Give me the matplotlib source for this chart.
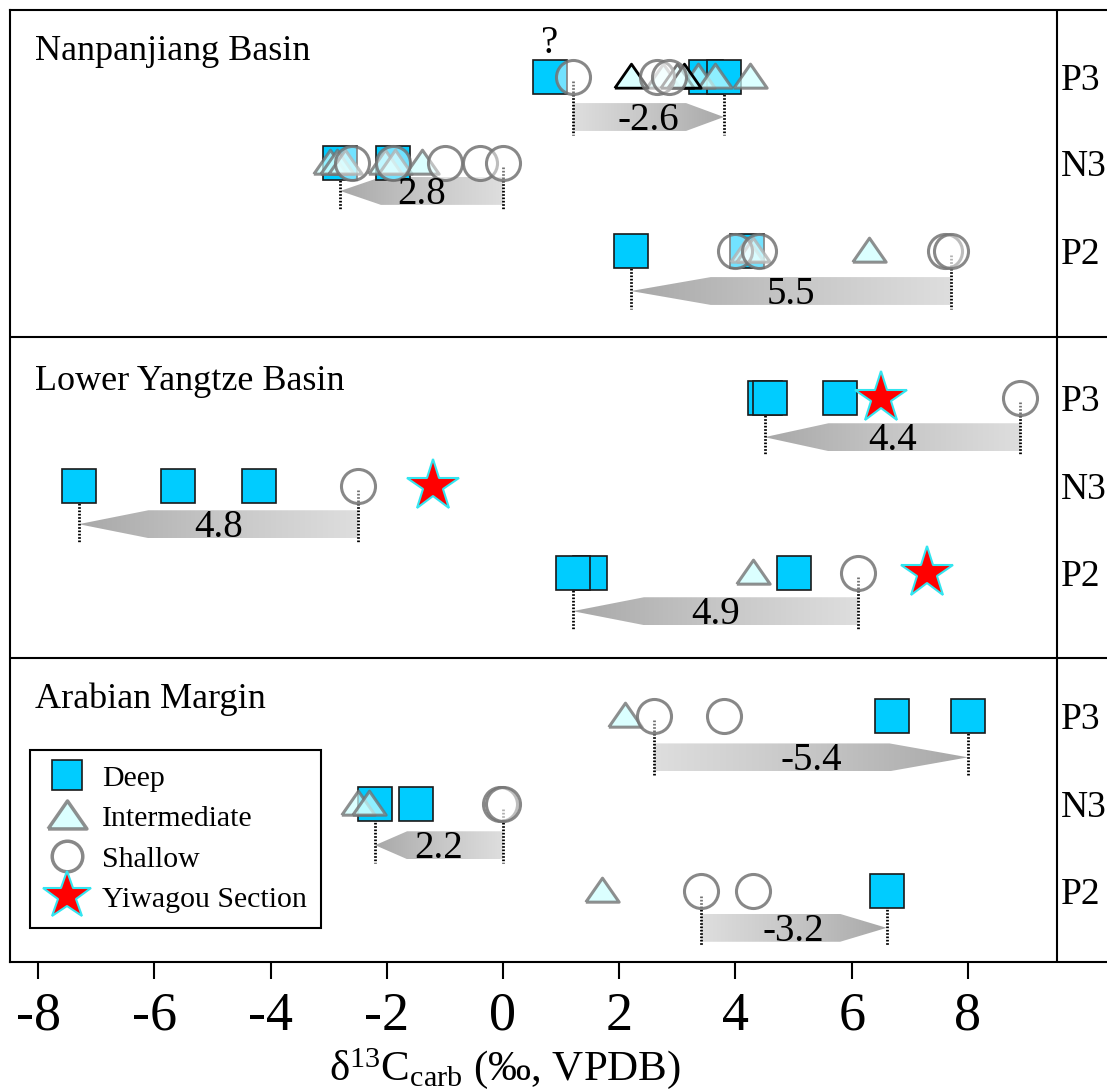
import matplotlib.pyplot as plt
import numpy as np
from matplotlib.patches import Polygon
from matplotlib.lines import Line2D
from matplotlib.colors import LinearSegmentedColormap

plt.rcParams['font.family'] = ['Liberation Serif', 'DejaVu Serif']
plt.rcParams['mathtext.fontset'] = 'custom'
plt.rcParams['mathtext.rm'] = 'Liberation Serif'
plt.rcParams['mathtext.it'] = 'Liberation Serif:italic'
plt.rcParams['axes.unicode_minus'] = False

# d13C values per basin (rows: P3, N3, P2)
basins = ['Nanpanjiang Basin', 'Lower Yangtze Basin', 'Arabian Margin']
intervals = ['P3', 'N3', 'P2']

deep = [
    [[0.8, 3.5, 3.8], [-2.8, -1.9], [2.2, 4.2]],
    [[4.5, 4.6, 5.8], [-7.3, -5.6, -4.2], [1.5, 1.2, 5.0]],
    [[6.7, 8.0], [-2.2, -1.5], [6.6]],
]
intermediate = [
    [[2.75, 3.35, 3.65, 4.25], [-2.98, -2.85, -2.72, -2.03, -1.86, -1.4], [4.2, 4.3, 6.3]],
    [[], [], [4.3]],
    [[2.1], [-2.5, -2.3], [1.7]],
]
intermediate_dark = [
    [[2.2, 3.0, 3.12], [], []],
    [[], [], []],
    [[], [], []],
]
shallow = [
    [[1.2, 2.65, 2.85], [-2.6, -1.9, -1.0, -0.4, 0.0], [4.0, 4.4, 7.6, 7.7]],
    [[8.9], [-2.5], [6.1]],
    [[2.6, 3.8], [-0.05, 0.0], [3.4, 4.3]],
]
yiwagou = [
    [[], [], []],
    [[6.5], [-1.2], [7.3]],
    [[], [], []],
]
# shift arrows: start value and size of the shift (start - end)
shift_start = [[1.2, 0.0, 7.7], [8.9, -2.5, 6.1], [2.6, 0.0, 3.4]]
shift_size = [[-2.6, 2.8, 5.5], [4.4, 4.8, 4.9], [-5.4, 2.2, -3.2]]

# layout
W, H = 1107, 1090
def px2x(px):
    return (px - 38) / 58.125 - 8

panel_edges = [3.76, 7.45]
row_y = [[0.77, 1.76, 2.77], [4.46, 5.47, 6.47], [8.11, 9.13, 10.13]]
arrow_dy = [[0.46, 0.32, 0.46], [0.45, 0.44, 0.44], [0.48, 0.47, 0.42]]
title_y = [0.58, 4.37, 8.02]
arrow_h = 0.32

DEEP = '#00ccff'
INT_FACE = (0.80, 1.0, 1.0, 0.7)
INT_EDGE = (0.45, 0.45, 0.45, 0.8)
SH_FACE = (1, 1, 1, 0.45)
SH_EDGE = (0.45, 0.45, 0.45, 0.85)
tri = [(-1, -0.64), (1, -0.64), (0, 0.8), (-1, -0.64)]

grey_ramp = LinearSegmentedColormap.from_list('ramp', ['#dedede', '#c6c6c6', '#a8a8a8'])

fig = plt.figure(figsize=(W / 100, H / 100), dpi=100)
ax = fig.add_axes([10 / W, 128 / H, W / W, 952 / H])


def shift_arrow(y, start, size):
    end = start - size
    neck = end - 0.25 * (end - start)
    verts = [(start, y - arrow_h / 2), (neck, y - arrow_h / 2), (end, y),
             (neck, y + arrow_h / 2), (start, y + arrow_h / 2)]
    poly = Polygon(verts, closed=True, fc='none', ec='none')
    ax.add_patch(poly)
    grad = np.linspace(0, 1, 256).reshape(1, -1)
    if end < start:
        grad = grad[:, ::-1]
    im = ax.imshow(grad, extent=(min(start, end), max(start, end), y + arrow_h / 2, y - arrow_h / 2),
                   cmap=grey_ramp, vmin=0, vmax=1, aspect='auto', zorder=1, interpolation='bilinear')
    im.set_clip_path(poly)
    ax.text((start + end) / 2, y + 0.15, f'{size:g}', fontsize=28, ha='center', va='baseline', zorder=7)
    return end


for b in range(3):
    ax.text(px2x(35), title_y[b], basins[b], fontsize=26, ha='left', va='baseline')
    for r in range(3):
        y = row_y[b][r]
        ya = y + arrow_dy[b][r]
        end = shift_arrow(ya, shift_start[b][r], shift_size[b][r])
        for xv in (shift_start[b][r], end):
            ax.plot([xv, xv], [y + 0.05, ya + arrow_h / 2 + 0.05], color='black',
                    lw=2, ls=(0, (0.6, 0.6)), zorder=2)
        ax.plot(deep[b][r], [y] * len(deep[b][r]), ls='none', marker='s', ms=24,
                mfc=DEEP, mec='#1a1a1a', mew=1.2, zorder=3)
        ax.plot(intermediate[b][r], [y] * len(intermediate[b][r]), ls='none', marker=tri, ms=24,
                mfc=INT_FACE, mec=INT_EDGE, mew=2.2, zorder=4)
        ax.plot(intermediate_dark[b][r], [y] * len(intermediate_dark[b][r]), ls='none', marker=tri, ms=24,
                mfc=INT_FACE, mec='black', mew=2.0, zorder=4)
        ax.plot(shallow[b][r], [y] * len(shallow[b][r]), ls='none', marker='o', ms=24.5,
                mfc=SH_FACE, mec=SH_EDGE, mew=2.2, zorder=5)
        ax.plot(yiwagou[b][r], [y] * len(yiwagou[b][r]), ls='none', marker='*', ms=39,
                mfc='#ff0000', mec='#33e5f0', mew=1.5, zorder=6)
        ax.text(px2x(1061), y + 0.15, intervals[r], fontsize=27, ha='left', va='baseline')

# uncertain age of the first deep-water value
ax.text(deep[0][0][0], row_y[0][0] - 0.28, '?', fontsize=28, ha='center', va='baseline')

for yb in panel_edges:
    ax.axhline(yb, color='black', lw=1.5, zorder=8)
ax.axvline(px2x(1057), color='black', lw=1.5, zorder=8)

ax.set_xlim(px2x(10), px2x(W + 10))
ax.set_ylim(952 / 87, 0)
ax.set_yticks([])
ax.set_xticks(np.arange(-8, 9, 2))
ax.set_xticklabels([str(v) for v in range(-8, 9, 2)])
ax.tick_params(axis='x', direction='out', length=12, width=1.5, labelsize=39, pad=9)
for side in ['top', 'bottom', 'left']:
    ax.spines[side].set_linewidth(1.5)
ax.spines['right'].set_visible(False)

ax.set_xlabel('δ$^{13}$C$_{\\rm carb}$ (‰, VPDB)', fontsize=31, va='top')
ax.xaxis.set_label_coords((505 - 10) / W, -(1046 - 962) / 952)

handles = [
    Line2D([], [], ls='none', marker='s', ms=21, mfc=DEEP, mec='#1a1a1a', mew=1.2),
    Line2D([], [], ls='none', marker=tri, ms=28, mfc=INT_FACE, mec=INT_EDGE, mew=2.5),
    Line2D([], [], ls='none', marker='o', ms=22, mfc='white', mec=SH_EDGE, mew=2.5),
    Line2D([], [], ls='none', marker='*', ms=36, mfc='#ff0000', mec='#33e5f0', mew=1.5),
]
leg = ax.legend(handles, ['Deep', 'Intermediate', 'Shallow', 'Yiwagou Section'],
                loc='upper left', bbox_to_anchor=(30 / W, 1 - 750 / H), bbox_transform=fig.transFigure,
                borderaxespad=0, fontsize=21.5, frameon=True, fancybox=False, framealpha=1,
                edgecolor='black', borderpad=0.5, handlelength=1.45, handletextpad=0.45,
                labelspacing=0.45)
leg.get_frame().set_linewidth(1.5)
leg.set_zorder(9)

fig.savefig('out.png', dpi=100)
